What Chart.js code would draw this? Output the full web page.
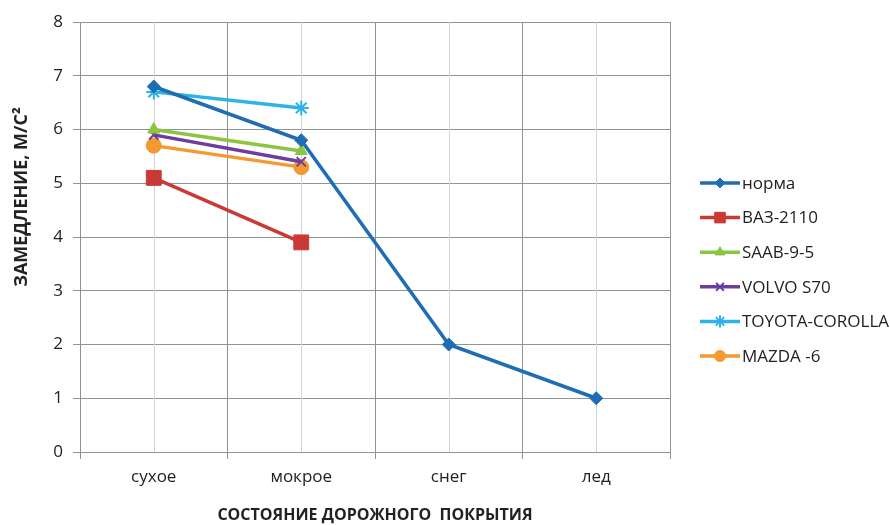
<!DOCTYPE html>
<html>
<head>
<meta charset="utf-8">
<script src="https://cdn.jsdelivr.net/npm/chart.js@4"></script>
<style>
  html, body { margin: 0; padding: 0; background: #fff; }
  #wrap { width: 890px; height: 525px; position: relative; }
</style>
</head>
<body>
<div id="wrap"><canvas id="chart"></canvas></div>
<script>
const categories = ['сухое', 'мокрое', 'снег', 'лед'];
const yTicks = [0, 1, 2, 3, 4, 5, 6, 7, 8];

const normaVals  = [6.8, 5.8, 2, 1];
const vazVals    = [5.1, 3.9, null, null];
const saabVals   = [6.0, 5.6, null, null];
const volvoVals  = [5.9, 5.4, null, null];
const toyotaVals = [6.7, 6.4, null, null];
const mazdaVals  = [5.7, 5.3, null, null];

const seriesNames = ['норма', 'ВАЗ-2110', 'SAAB-9-5', 'VOLVO S70', 'TOYOTA-COROLLA', 'MAZDA -6'];
const yTitle = 'ЗАМЕДЛЕНИЕ, М/С²';
const xTitle = 'СОСТОЯНИЕ ДОРОЖНОГО  ПОКРЫТИЯ';

const FONT = '"Open Sans", "Liberation Sans", sans-serif';
const TXT = '#222';
const GRID = '#8a9696';

function ds(label, data, color, style, radius, legendRadius) {
  return {
    label, data,
    borderColor: color, backgroundColor: color,
    pointBorderColor: color, pointBackgroundColor: color,
    borderWidth: 3.5, pointStyle: style, pointRadius: radius,
    pointBorderWidth: (style === 'crossRot' || style === 'star') ? 2 : 1,
    legendRadius,
    tension: 0, spanGaps: false
  };
}

const datasets = [
  ds(seriesNames[0], normaVals,  '#1F6DB3', 'rectRot', 6.5, 5),
  ds(seriesNames[1], vazVals,    '#C93A36', 'rect', 10.5, 7.5),
  ds(seriesNames[2], saabVals,   '#8CC540', 'triangle', 7, 5.5),
  ds(seriesNames[3], volvoVals,  '#6E3D9E', 'crossRot', 6.5, 5.5),
  ds(seriesNames[4], toyotaVals, '#2DB3E6', 'star', 7.5, 6),
  ds(seriesNames[5], mazdaVals,  '#F4992F', 'circle', 7.5, 5.5)
];

// light vertical lines through category centres + rotated y title
const extras = {
  id: 'extras',
  beforeDatasetsDraw(chart) {
    const { ctx, chartArea, scales } = chart;
    ctx.save();
    ctx.strokeStyle = '#cfd6d6';
    ctx.lineWidth = 1;
    categories.forEach((c, i) => {
      const x = Math.round(scales.x.getPixelForValue(i)) + 0.5;
      ctx.beginPath();
      ctx.moveTo(x, chartArea.top);
      ctx.lineTo(x, chartArea.bottom);
      ctx.stroke();
    });
    ctx.translate(22, 197);
    ctx.rotate(-Math.PI / 2);
    ctx.fillStyle = TXT;
    ctx.font = 'bold 18px ' + FONT;
    ctx.textAlign = 'center';
    ctx.textBaseline = 'middle';
    ctx.fillText(yTitle, 0, 0);
    ctx.restore();
  }
};

// legend in the Excel style: a short line with the marker in the middle
const sideLegend = {
  id: 'sideLegend',
  afterDraw(chart) {
    const { ctx } = chart;
    const x0 = 700, y0 = 183, step = 34.6;
    ctx.save();
    chart.data.datasets.forEach((d, i) => {
      const y = y0 + i * step;
      ctx.strokeStyle = d.borderColor;
      ctx.lineWidth = 3.5;
      ctx.beginPath();
      ctx.moveTo(x0, y);
      ctx.lineTo(x0 + 40, y);
      ctx.stroke();
      ctx.fillStyle = d.pointBackgroundColor;
      ctx.strokeStyle = d.pointBorderColor;
      ctx.lineWidth = d.pointBorderWidth;
      Chart.helpers.drawPoint(ctx, { pointStyle: d.pointStyle, radius: d.legendRadius, borderWidth: d.pointBorderWidth }, x0 + 20, y);
      ctx.fillStyle = TXT;
      ctx.font = '17px ' + FONT;
      ctx.textAlign = 'left';
      ctx.textBaseline = 'middle';
      ctx.fillText(d.label, x0 + 42, y + 1);
    });
    ctx.restore();
  }
};

new Chart(document.getElementById('chart'), {
  type: 'line',
  data: { labels: categories, datasets },
  plugins: [extras, sideLegend],
  options: {
    responsive: true,
    maintainAspectRatio: false,
    animation: false,
    layout: { padding: { top: 22, right: 220, left: 6, bottom: 0 } },
    plugins: {
      legend: { display: false },
      tooltip: { enabled: false }
    },
    scales: {
      x: {
        offset: true,
        afterFit(scale) { scale.height = 73; },
        grid: { offset: true, color: GRID, lineWidth: 1, tickLength: 7, tickColor: GRID },
        border: { color: GRID },
        ticks: { color: TXT, font: { family: FONT, size: 17 }, padding: 8 },
        title: { display: true, text: xTitle, color: TXT, font: { family: FONT, size: 16, weight: 'bold' }, padding: { top: 10, bottom: 0 } }
      },
      y: {
        min: 0, max: 8,
        afterBuildTicks(scale) { scale.ticks = yTicks.map(v => ({ value: v })); },
        afterFit(scale) { scale.width = 74; },
        grid: { color: GRID, lineWidth: 1, tickLength: 7, tickColor: GRID },
        border: { color: GRID },
        ticks: { color: TXT, font: { family: FONT, size: 17 }, padding: 10 }
      }
    }
  }
});
</script>
</body>
</html>
